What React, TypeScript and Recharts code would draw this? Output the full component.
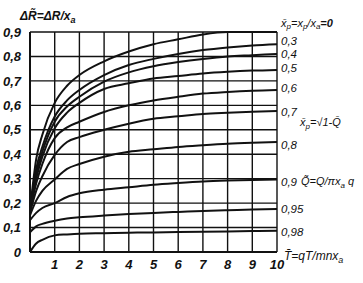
import { LineChart, Line, XAxis, YAxis, CartesianGrid } from "recharts";

// T̄ values where curves were read
const tValues = [0, 0.25, 0.5, 1, 1.5, 2, 3, 4, 5, 6, 7, 8, 9, 10];

// ΔR̃ curves, one per x̄p
const xp0 = [0.17, 0.38, 0.48, 0.61, 0.68, 0.724, 0.78, 0.82, 0.85, 0.87, 0.89, 0.9, 0.9, 0.9];
const xp03 = [0.17, 0.34, 0.43, 0.554, 0.62, 0.663, 0.724, 0.765, 0.79, 0.81, 0.826, 0.837, 0.845, 0.85];
const xp04 = [0.17, 0.32, 0.41, 0.533, 0.595, 0.635, 0.697, 0.735, 0.76, 0.777, 0.79, 0.8, 0.805, 0.81];
const xp05 = [0.17, 0.3, 0.39, 0.506, 0.57, 0.61, 0.667, 0.69, 0.71, 0.72, 0.73, 0.737, 0.742, 0.745];
const xp06 = [0.17, 0.28, 0.36, 0.466, 0.51, 0.533, 0.573, 0.6, 0.62, 0.635, 0.648, 0.655, 0.66, 0.663];
const xp07 = [0.16, 0.25, 0.31, 0.397, 0.45, 0.47, 0.5, 0.525, 0.545, 0.555, 0.565, 0.57, 0.574, 0.577];
const xp08 = [0.15, 0.21, 0.25, 0.297, 0.34, 0.36, 0.39, 0.41, 0.42, 0.43, 0.437, 0.443, 0.447, 0.45];
const xp09 = [0.13, 0.16, 0.18, 0.2, 0.225, 0.24, 0.255, 0.265, 0.275, 0.282, 0.288, 0.292, 0.295, 0.297];
const xp095 = [0.08, 0.105, 0.115, 0.128, 0.137, 0.142, 0.149, 0.155, 0.16, 0.164, 0.168, 0.171, 0.174, 0.176];
const xp098 = [0, 0.035, 0.05, 0.068, 0.072, 0.075, 0.077, 0.079, 0.08, 0.082, 0.083, 0.084, 0.086, 0.087];

const seriesList = [xp0, xp03, xp04, xp05, xp06, xp07, xp08, xp09, xp095, xp098];
const curveLabels = ["0", "0,3", "0,4", "0,5", "0,6", "0,7", "0,8", "0,9", "0,95", "0,98"];
const labelY = [27, 45, 58, 72, 92, 116, 149, 186, 213, 236];

const xTicks = [1, 2, 3, 4, 5, 6, 7, 8, 9, 10];
const yTicks = [0, 0.1, 0.2, 0.3, 0.4, 0.5, 0.6, 0.7, 0.8, 0.9];

const rows = tValues.map((t, i) => {
  const row: Record<string, number> = { t };
  seriesList.forEach((s, k) => { row["s" + k] = s[i]; });
  return row;
});

const INK = "#111";
const FONT = "'Liberation Sans', Arial, sans-serif";

const fmt = (v: number) => (v === 0 ? "0" : String(v).replace(".", ","));

export default function App() {
  return (
    <div style={{ position: "absolute", left: 0, top: 0, width: 363, height: 283, background: "#fff" }}>
      <LineChart width={363} height={283} data={rows} margin={{ top: 32, right: 86, left: 0, bottom: 0 }}>
        <CartesianGrid stroke={INK} strokeWidth={1.4} />
        <XAxis
          dataKey="t" type="number" domain={[0, 10]} ticks={xTicks} height={31}
          axisLine={{ stroke: INK, strokeWidth: 2 }} tickLine={false} interval={0}
          tick={{ fill: INK, fontSize: 13, fontStyle: "italic", fontWeight: "bold", fontFamily: FONT }}
          tickMargin={2}
        />
        <YAxis
          type="number" domain={[0, 0.9]} ticks={yTicks} width={30}
          axisLine={{ stroke: INK, strokeWidth: 2 }} tickLine={false} interval={0}
          tickFormatter={fmt}
          tick={{ fill: INK, fontSize: 13, fontStyle: "italic", fontWeight: "bold", fontFamily: FONT }}
          tickMargin={3}
        />
        {seriesList.map((_, k) => (
          <Line key={k} type="monotone" dataKey={"s" + k} stroke={INK} strokeWidth={2}
            dot={false} isAnimationActive={false} />
        ))}
      </LineChart>
      <svg width={363} height={283} style={{ position: "absolute", left: 0, top: 0, pointerEvents: "none" }}
        fontFamily={FONT} fontStyle="italic" fill={INK}>
        <text x={20} y={20} fontSize={12} fontWeight="bold">
          ΔR̃=ΔR/x<tspan fontSize={9} dy={3}>a</tspan>
        </text>
        <text x={281} y={labelY[0]} fontSize={11}>
          x̄<tspan fontSize={8} dy={2}>p</tspan>
          <tspan dy={-2}>=x</tspan><tspan fontSize={8} dy={2}>p</tspan>
          <tspan dy={-2}>/x</tspan><tspan fontSize={8} dy={2}>a</tspan>
          <tspan dy={-2} fontWeight="bold">=0</tspan>
        </text>
        {curveLabels.slice(1).map((l, i) => (
          <text key={l} x={281} y={labelY[i + 1]} fontSize={11.5}>{l}</text>
        ))}
        <text x={300} y={126} fontSize={11}>
          x̄<tspan fontSize={8} dy={3}>p</tspan><tspan dy={-3}>=√1-Q̄</tspan>
        </text>
        <text x={301} y={185} fontSize={11}>
          Q̃=Q/πx<tspan fontSize={8} dy={3}>a</tspan><tspan dy={-3}> q</tspan>
        </text>
        <text x={284} y={260} fontSize={12}>
          T̄=qT/mnx<tspan fontSize={9} dy={3}>a</tspan>
        </text>
      </svg>
    </div>
  );
}
